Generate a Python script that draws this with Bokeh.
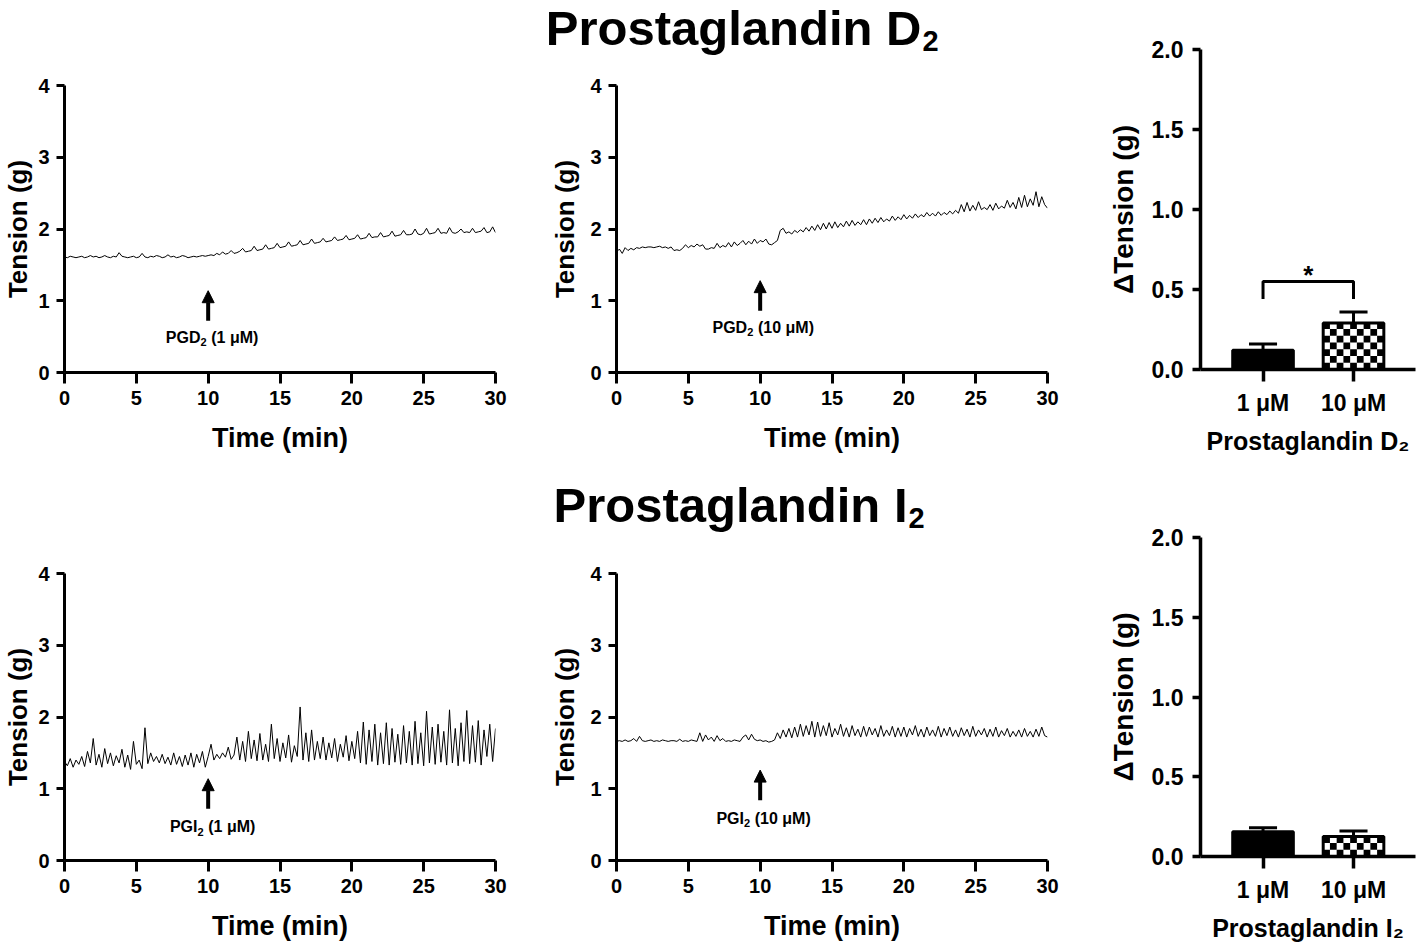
from bokeh.plotting import figure
from bokeh.layouts import row, column
from bokeh.models import Range1d, FixedTicker, PrintfTickFormatter, Arrow, NormalHead
from bokeh.core.properties import value
from bokeh.embed import file_html
from bokeh.resources import INLINE

FONT = "Liberation Sans"

# ---------------- data ----------------
sample_step_min = 0.2
time_min = [round(sample_step_min * i, 1) for i in range(151)]
time_ticks = [0, 5, 10, 15, 20, 25, 30]
tension_ticks = [0, 1, 2, 3, 4]
drug_added_min = 10

# PGD2 1 uM trace (g)
pgd2_1uM = [
    1.61, 1.60, 1.62, 1.61, 1.60, 1.61, 1.62, 1.60, 1.61, 1.63,
    1.61, 1.62, 1.60, 1.61, 1.63, 1.61, 1.60, 1.62, 1.61, 1.67,
    1.62, 1.61, 1.60, 1.61, 1.62, 1.60, 1.61, 1.66, 1.61, 1.60,
    1.62, 1.61, 1.63, 1.62, 1.60, 1.61, 1.64, 1.61, 1.62, 1.60,
    1.61, 1.63, 1.62, 1.60, 1.61, 1.62, 1.61, 1.62, 1.63, 1.62,
    1.63, 1.64, 1.63, 1.66, 1.64, 1.68, 1.65, 1.66, 1.70, 1.66,
    1.67, 1.69, 1.73, 1.68, 1.69, 1.70, 1.76, 1.70, 1.71, 1.72,
    1.78, 1.72, 1.73, 1.74, 1.80, 1.74, 1.75, 1.76, 1.82, 1.76,
    1.77, 1.78, 1.84, 1.78, 1.79, 1.80, 1.86, 1.80, 1.81, 1.82,
    1.87, 1.82, 1.83, 1.84, 1.89, 1.84, 1.85, 1.86, 1.91, 1.85,
    1.86, 1.87, 1.92, 1.86, 1.87, 1.88, 1.94, 1.88, 1.89, 1.89,
    1.95, 1.89, 1.90, 1.91, 1.97, 1.90, 1.91, 1.92, 1.98, 1.92,
    1.92, 1.93, 2.00, 1.93, 1.92, 1.94, 2.01, 1.93, 1.94, 1.95,
    2.01, 1.94, 1.95, 1.94, 2.02, 1.95, 1.94, 1.96, 2.00, 1.95,
    1.96, 1.95, 2.01, 1.95, 1.96, 1.97, 2.02, 1.95, 1.96, 2.03, 1.95,
]

# PGD2 10 uM trace (g)
pgd2_10uM = [
    1.68, 1.72, 1.66, 1.74, 1.70, 1.73, 1.71, 1.74, 1.73, 1.75,
    1.74, 1.75, 1.75, 1.74, 1.75, 1.76, 1.74, 1.75, 1.73, 1.75,
    1.70, 1.71, 1.70, 1.73, 1.78, 1.74, 1.77, 1.75, 1.79, 1.76,
    1.78, 1.72, 1.72, 1.74, 1.73, 1.80, 1.74, 1.77, 1.75, 1.81,
    1.75, 1.82, 1.77, 1.80, 1.84, 1.78, 1.83, 1.79, 1.86, 1.80,
    1.84, 1.82, 1.86, 1.79, 1.78, 1.81, 1.84, 1.98, 2.01, 1.94,
    1.96, 1.93, 1.98, 1.95, 1.99, 1.96, 2.02, 1.97, 2.04, 1.98,
    2.06, 1.99, 2.08, 2.00, 2.09, 2.01, 2.10, 2.02, 2.08, 2.03,
    2.11, 2.04, 2.12, 2.05, 2.10, 2.06, 2.13, 2.06, 2.14, 2.08,
    2.15, 2.09, 2.16, 2.10, 2.14, 2.11, 2.18, 2.12, 2.17, 2.13,
    2.20, 2.14, 2.19, 2.15, 2.21, 2.16, 2.20, 2.17, 2.23, 2.18,
    2.22, 2.18, 2.24, 2.19, 2.23, 2.20, 2.25, 2.21, 2.26, 2.22,
    2.34, 2.24, 2.37, 2.25, 2.33, 2.26, 2.38, 2.27, 2.30, 2.27,
    2.34, 2.26, 2.36, 2.28, 2.32, 2.29, 2.40, 2.30, 2.37, 2.28,
    2.44, 2.30, 2.47, 2.31, 2.42, 2.33, 2.52, 2.31, 2.45, 2.34, 2.29,
]

# PGI2 1 uM trace (g)
pgi2_1uM = [
    1.38, 1.32, 1.42, 1.30, 1.40, 1.34, 1.45, 1.31, 1.52, 1.36,
    1.70, 1.33, 1.48, 1.30, 1.56, 1.35, 1.50, 1.32, 1.46, 1.36,
    1.55, 1.30, 1.47, 1.27, 1.66, 1.34, 1.40, 1.28, 1.85, 1.35,
    1.50, 1.38, 1.45, 1.36, 1.48, 1.35, 1.44, 1.33, 1.50, 1.34,
    1.45, 1.31, 1.47, 1.33, 1.50, 1.30, 1.48, 1.36, 1.52, 1.30,
    1.45, 1.62, 1.40, 1.48, 1.42, 1.50, 1.44, 1.58, 1.41, 1.47,
    1.72, 1.40, 1.66, 1.38, 1.80, 1.42, 1.68, 1.39, 1.77, 1.40,
    1.62, 1.38, 1.90, 1.42, 1.70, 1.38, 1.64, 1.43, 1.75, 1.37,
    1.60, 1.45, 2.14, 1.40, 1.78, 1.38, 1.82, 1.40, 1.66, 1.42,
    1.72, 1.40, 1.64, 1.43, 1.70, 1.38, 1.62, 1.44, 1.74, 1.39,
    1.66, 1.42, 1.80, 1.36, 1.93, 1.34, 1.82, 1.38, 1.90, 1.33,
    1.78, 1.35, 1.92, 1.33, 1.84, 1.37, 1.76, 1.34, 1.88, 1.36,
    1.80, 1.33, 1.94, 1.35, 1.78, 1.32, 2.08, 1.36, 1.86, 1.34,
    1.90, 1.37, 1.80, 1.33, 2.10, 1.36, 1.84, 1.32, 1.92, 1.38,
    2.09, 1.35, 1.88, 1.37, 1.95, 1.33, 1.82, 1.45, 1.90, 1.38, 1.84,
]

# PGI2 10 uM trace (g)
pgi2_10uM = [
    1.66, 1.67, 1.66, 1.68, 1.66, 1.67, 1.70, 1.66, 1.73, 1.67,
    1.66, 1.67, 1.68, 1.66, 1.67, 1.66, 1.68, 1.67, 1.66, 1.67,
    1.67, 1.66, 1.69, 1.66, 1.67, 1.66, 1.68, 1.67, 1.66, 1.78,
    1.66, 1.75, 1.68, 1.72, 1.66, 1.74, 1.67, 1.70, 1.66, 1.67,
    1.66, 1.68, 1.67, 1.66, 1.72, 1.75, 1.68, 1.76, 1.69, 1.67,
    1.68, 1.66, 1.67, 1.65, 1.66, 1.68, 1.78, 1.70, 1.82, 1.72,
    1.84, 1.71, 1.86, 1.72, 1.90, 1.73, 1.88, 1.75, 1.94, 1.72,
    1.93, 1.73, 1.88, 1.74, 1.92, 1.72, 1.84, 1.75, 1.90, 1.73,
    1.85, 1.72, 1.88, 1.74, 1.83, 1.72, 1.87, 1.73, 1.86, 1.75,
    1.84, 1.72, 1.88, 1.73, 1.82, 1.74, 1.87, 1.72, 1.85, 1.73,
    1.86, 1.72, 1.84, 1.75, 1.88, 1.73, 1.83, 1.72, 1.86, 1.74,
    1.82, 1.73, 1.87, 1.72, 1.84, 1.74, 1.86, 1.73, 1.82, 1.72,
    1.85, 1.74, 1.83, 1.72, 1.87, 1.73, 1.82, 1.75, 1.84, 1.72,
    1.83, 1.73, 1.86, 1.72, 1.81, 1.74, 1.84, 1.72, 1.80, 1.73,
    1.82, 1.72, 1.84, 1.73, 1.80, 1.72, 1.83, 1.73, 1.86, 1.74, 1.72,
]

# arrow (start, tip) and label heights, in g
pgd2_1uM_arrow = [0.72, 1.14]
pgd2_10uM_arrow = [0.86, 1.28]
pgi2_1uM_arrow = [0.72, 1.14]
pgi2_10uM_arrow = [0.84, 1.26]
pgd2_1uM_label_y = 0.49
pgd2_10uM_label_y = 0.63
pgi2_1uM_label_y = 0.47
pgi2_10uM_label_y = 0.59

# summary bars: delta tension (g)
conc_labels = ["1 μM", "10 μM"]
conc_pos = [1, 2]
pgd2_delta_mean = [0.12, 0.29]
pgd2_delta_sem = [0.04, 0.07]
pgi2_delta_mean = [0.155, 0.125]
pgi2_delta_sem = [0.025, 0.035]
pgd2_sig_bracket = [0.44, 0.55]   # leg bottom, bracket top
pgd2_sig_star_y = 0.59
delta_ticks = [0, 0.5, 1.0, 1.5, 2.0]


# ---------------- helpers ----------------
def style_axis(ax, tick_size, label_size, line_w, tick_out):
    ax.axis_line_width = line_w
    ax.axis_line_color = "black"
    ax.major_tick_line_width = line_w
    ax.major_tick_line_color = "black"
    ax.major_tick_in = 0
    ax.major_tick_out = tick_out
    ax.minor_tick_line_color = None
    ax.major_label_text_font = FONT
    ax.major_label_text_font_style = "bold"
    ax.major_label_text_font_size = tick_size
    ax.major_label_text_color = "black"
    ax.axis_label_text_font = FONT
    ax.axis_label_text_font_style = "bold"
    ax.axis_label_text_font_size = label_size
    ax.axis_label_text_color = "black"


def sub_text(p, x, y, main, sub, rest, dx, size=16, sub_size=11, sub_w=6.3, sub_drop=4.8):
    common = dict(text_font=value(FONT), text_font_style="bold", text_color="black",
                  text_baseline="middle")
    p.text(x=[x], y=[y], text=[main], text_align="right", x_offset=dx,
           text_font_size=f"{size}px", **common)
    p.text(x=[x], y=[y], text=[sub], text_align="left", x_offset=dx, y_offset=sub_drop,
           text_font_size=f"{sub_size}px", **common)
    p.text(x=[x], y=[y], text=[rest], text_align="left", x_offset=dx + sub_w + 0.28 * size,
           text_font_size=f"{size}px", **common)


def trace_panel(width, height, left, right, top, frame_h, tension, arrow, label_y,
                drug, conc, dx, ylab_standoff):
    bottom = height - top - frame_h
    p = figure(width=width, height=height, x_range=Range1d(0, 30), y_range=Range1d(0, 4),
               output_backend="svg", toolbar_location=None,
               min_border_left=left, min_border_right=right,
               min_border_top=top, min_border_bottom=bottom)
    p.outline_line_color = None
    p.grid.visible = False
    p.line(time_min, tension, line_color="black", line_width=1)
    xa, ya = p.xaxis[0], p.yaxis[0]
    xa.ticker = FixedTicker(ticks=time_ticks)
    ya.ticker = FixedTicker(ticks=tension_ticks)
    xa.axis_label = "Time (min)"
    ya.axis_label = "Tension (g)"
    style_axis(xa, "20px", "27px", 3, 11)
    style_axis(ya, "20px", "26px", 3, 8)
    xa.major_label_standoff = 7
    xa.axis_label_standoff = 15
    ya.major_label_standoff = 7
    ya.axis_label_standoff = ylab_standoff
    p.add_layout(Arrow(end=NormalHead(size=12, fill_color="black", line_color="black", line_width=1),
                       x_start=drug_added_min, y_start=arrow[0],
                       x_end=drug_added_min, y_end=arrow[1],
                       line_width=4, line_color="black"))
    sub_text(p, drug_added_min, label_y, drug, "2", f"({conc})", dx)
    return p


def bar_panel(width, height, left, right, top, frame_h, means, sems, xlabel_main,
              sig=None, star_y=None):
    bottom = height - top - frame_h
    x0, x1 = 0.309, 2.685
    p = figure(width=width, height=height, x_range=Range1d(x0, x1), y_range=Range1d(0, 2),
               output_backend="svg", toolbar_location=None,
               min_border_left=left, min_border_right=right,
               min_border_top=top, min_border_bottom=bottom)
    p.outline_line_color = None
    p.grid.visible = False
    bw = 0.67
    # solid bar
    p.vbar(x=[conc_pos[0]], top=[means[0]], width=bw, fill_color="black",
           line_color="black", line_width=3)
    # checkered bar
    p.vbar(x=[conc_pos[1]], top=[means[1]], width=bw, fill_color="white",
           line_color=None)
    fw = width - left - right
    px_x = fw / (x1 - x0)
    px_y = frame_h / 2.0
    ncol = 9
    dxc = bw / ncol
    dyc = dxc * px_x / px_y
    h = means[1]
    lft = conc_pos[1] - bw / 2
    L, R, B, T = [], [], [], []
    j = 0
    while j * dyc < h:
        for i in range(ncol):
            if (i + j) % 2 == 0:
                L.append(lft + i * dxc)
                R.append(lft + (i + 1) * dxc)
                B.append(j * dyc)
                T.append(min((j + 1) * dyc, h))
        j += 1
    p.quad(left=L, right=R, bottom=B, top=T, fill_color="black", line_color=None)
    p.vbar(x=[conc_pos[1]], top=[means[1]], width=bw, fill_color=None,
           line_color="black", line_width=3)
    # error bars (upper only)
    tops = [m + s for m, s in zip(means, sems)]
    p.segment(x0=conc_pos, y0=means, x1=conc_pos, y1=tops, line_color="black", line_width=3)
    cap = 0.155
    p.segment(x0=[c - cap for c in conc_pos], y0=tops, x1=[c + cap for c in conc_pos], y1=tops,
              line_color="black", line_width=3)
    if sig is not None:
        p.line(x=[conc_pos[0], conc_pos[0], conc_pos[1], conc_pos[1]],
               y=[sig[0], sig[1], sig[1], sig[0]], line_color="black", line_width=3)
        p.text(x=[(conc_pos[0] + conc_pos[1]) / 2], y=[star_y], text=["*"],
               text_align="center", text_baseline="middle", text_font=value(FONT),
               text_font_style="bold", text_font_size="26px", text_color="black")
    xa, ya = p.xaxis[0], p.yaxis[0]
    xa.ticker = FixedTicker(ticks=conc_pos)
    xa.major_label_overrides = {conc_pos[0]: conc_labels[0], conc_pos[1]: conc_labels[1]}
    ya.ticker = FixedTicker(ticks=delta_ticks)
    ya.formatter = PrintfTickFormatter(format="%.1f")
    xa.axis_label = xlabel_main
    ya.axis_label = "ΔTension (g)"
    style_axis(xa, "23px", "25px", 3.5, 12)
    style_axis(ya, "23px", "28px", 3.5, 8)
    xa.major_label_standoff = 8
    xa.axis_label_standoff = 8
    ya.major_label_standoff = 9
    ya.axis_label_standoff = 10
    return p


def title_fig(width, height, main, sub, x_right, y_mid, size=49, sub_size=29, sub_drop=13.4):
    p = figure(width=width, height=height, x_range=Range1d(0, width), y_range=Range1d(0, height),
               output_backend="svg", toolbar_location=None, min_border=0,
               x_axis_location=None, y_axis_location=None)
    p.outline_line_color = None
    p.grid.visible = False
    common = dict(text_font=value(FONT), text_font_style="bold", text_color="black",
                  text_baseline="middle")
    p.text(x=[x_right], y=[y_mid], text=[main], text_align="right",
           text_font_size=f"{size}px", **common)
    p.text(x=[x_right + 1], y=[y_mid], text=[sub], text_align="left", y_offset=sub_drop,
           text_font_size=f"{sub_size}px", **common)
    return p


# ---------------- layout ----------------
tD = title_fig(1100, 58, "Prostaglandin D", "2", 921, 31)
f1 = trace_panel(530, 417, 64, 35, 27, 287, pgd2_1uM, pgd2_1uM_arrow, pgd2_1uM_label_y,
                 "PGD", "1 μM", -7.7, 2)
f2 = trace_panel(570, 417, 86, 53, 27, 287, pgd2_10uM, pgd2_10uM_arrow, pgd2_10uM_label_y,
                 "PGD", "10 μM", -13, 7)
f3 = bar_panel(318, 475, 100, 3, 49, 320, pgd2_delta_mean, pgd2_delta_sem,
               "Prostaglandin D₂", sig=pgd2_sig_bracket, star_y=pgd2_sig_star_y)

tI = title_fig(1100, 59, "Prostaglandin I", "2", 907, 30)
f4 = trace_panel(530, 410, 64, 35, 39, 287, pgi2_1uM, pgi2_1uM_arrow, pgi2_1uM_label_y,
                 "PGI", "1 μM", -10.7, 2)
f5 = trace_panel(570, 410, 86, 53, 39, 287, pgi2_10uM, pgi2_10uM_arrow, pgi2_10uM_label_y,
                 "PGI", "10 μM", -16.2, 7)
f6 = bar_panel(318, 469, 100, 3, 62, 320, pgi2_delta_mean, pgi2_delta_sem, "Prostaglandin I₂")

layout = column(
    row(column(tD, row(f1, f2, spacing=0), spacing=0), f3, spacing=0),
    row(column(tI, row(f4, f5, spacing=0), spacing=0), f6, spacing=0),
    spacing=0,
)

open("out.html", "w").write(file_html(layout, INLINE, "Prostaglandin D2 and I2"))
